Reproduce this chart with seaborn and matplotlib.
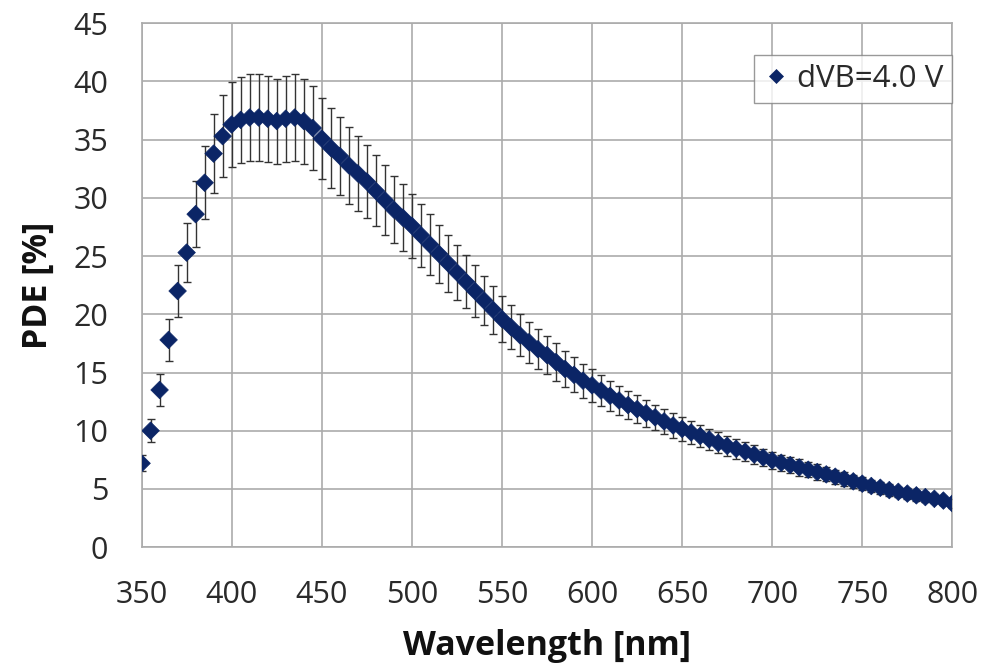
import numpy as np
import pandas as pd
import matplotlib
matplotlib.use("Agg")
import matplotlib.pyplot as plt
import seaborn as sns

wavelength = list(range(350, 805, 5))
pde = [7.2, 10.0, 13.5, 17.8, 22.0, 25.3, 28.6, 31.3, 33.8, 35.3,
       36.3, 36.7, 36.9, 36.9, 36.8, 36.6, 36.8, 36.9, 36.6, 36.0,
       35.1, 34.3, 33.6, 32.8, 32.1, 31.4, 30.6, 29.8, 29.0, 28.3,
       27.6, 26.8, 26.0, 25.2, 24.4, 23.6, 22.8, 22.0, 21.2, 20.4,
       19.6, 18.9, 18.2, 17.6, 17.0, 16.5, 15.9, 15.3, 14.8, 14.3,
       13.9, 13.45, 13.0, 12.6, 12.2, 11.85, 11.5, 11.15, 10.8, 10.45,
       10.15, 9.85, 9.55, 9.25, 8.95, 8.7, 8.45, 8.2, 7.95, 7.7,
       7.45, 7.25, 7.05, 6.85, 6.65, 6.45, 6.25, 6.05, 5.85, 5.65,
       5.45, 5.25, 5.1, 4.9, 4.75, 4.6, 4.45, 4.3, 4.15, 4.0,
       3.75]
pde_err = [0.7, 1.0, 1.35, 1.8, 2.2, 2.55, 2.85, 3.15, 3.4, 3.55,
           3.65, 3.7, 3.7, 3.7, 3.7, 3.65, 3.7, 3.7, 3.65, 3.6,
           3.5, 3.45, 3.35, 3.3, 3.2, 3.15, 3.05, 3.0, 2.9, 2.85,
           2.75, 2.7, 2.6, 2.5, 2.45, 2.35, 2.3, 2.2, 2.1, 2.05,
           1.95, 1.9, 1.8, 1.75, 1.7, 1.65, 1.6, 1.55, 1.5, 1.45,
           1.4, 1.35, 1.3, 1.25, 1.2, 1.2, 1.15, 1.1, 1.1, 1.05,
           1.0, 1.0, 0.95, 0.9, 0.9, 0.85, 0.85, 0.8, 0.8, 0.75,
           0.75, 0.7, 0.7, 0.7, 0.65, 0.65, 0.6, 0.6, 0.6, 0.55,
           0.55, 0.5, 0.5, 0.5, 0.45, 0.45, 0.45, 0.45, 0.4, 0.4,
           0.4]
series_label = "dVB=4.0 V"
x_ticks = list(range(350, 801, 50))
y_ticks = list(range(0, 46, 5))

df = pd.DataFrame({"Wavelength": wavelength, "PDE": pde, "err": pde_err,
                   "series": series_label})

sns.set_theme(style="whitegrid")
plt.rcParams["font.family"] = ["Open Sans", "DejaVu Sans"]

fig = plt.figure(figsize=(9.9, 6.64), dpi=100)
ax = fig.add_axes([0.143, 0.176, 0.819, 0.789])

navy = "#0b2566"
ax.errorbar(df["Wavelength"], df["PDE"], yerr=df["err"], fmt="none",
            ecolor="#333333", elinewidth=1.0, capsize=2.8, capthick=1.0, zorder=2)
sns.scatterplot(data=df, x="Wavelength", y="PDE", hue="series",
                palette=[navy], marker="D", s=80, edgecolor=navy,
                linewidth=0.5, ax=ax, zorder=3)

ax.set_xlim(350, 800)
ax.set_ylim(0, 45)
ax.set_xticks(x_ticks)
ax.set_yticks(y_ticks)
ax.grid(True, color="#ababab", linewidth=1.2)
for s in ax.spines.values():
    s.set_color("#ababab")
    s.set_linewidth(1.2)
ax.tick_params(axis="both", labelsize=22, colors="#2a2a2a", length=0)
ax.tick_params(axis="x", pad=23.5)
ax.tick_params(axis="y", pad=24)
ax.set_xlabel("Wavelength [nm]", fontsize=24.5, fontweight="bold", color="#111111", labelpad=14)
ax.set_ylabel("PDE [%]", fontsize=24.5, fontweight="bold", color="#111111", labelpad=13)

leg = ax.legend(loc="upper right", bbox_to_anchor=(1.0, 0.94), borderaxespad=0,
                fontsize=22.5, frameon=True, fancybox=False, markerscale=0.85,
                handletextpad=0.25, borderpad=0.3, handlelength=0.8)
leg.get_frame().set_edgecolor("#808080")
leg.get_frame().set_linewidth(1.0)
for t in leg.get_texts():
    t.set_color("#2a2a2a")

fig.savefig("out.png", dpi=100)
